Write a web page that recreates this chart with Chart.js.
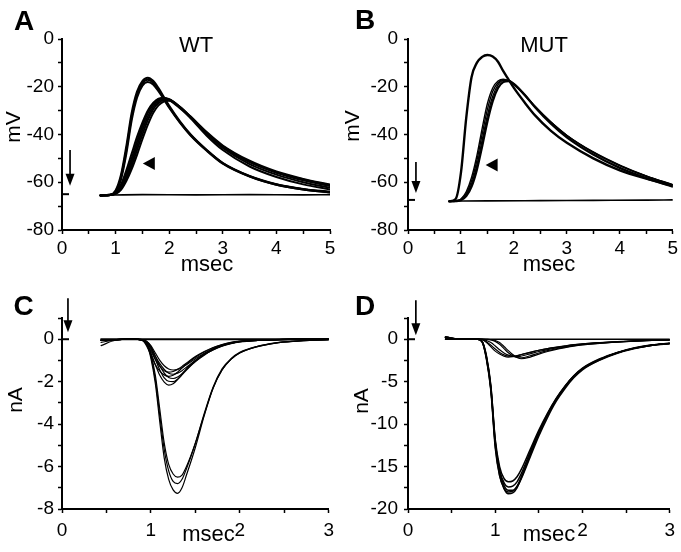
<!DOCTYPE html>
<html><head><meta charset="utf-8">
<script src="https://cdn.jsdelivr.net/npm/chart.js@4.4.1/dist/chart.umd.min.js"></script>
<style>
html,body{margin:0;padding:0;background:#fff;}
#wrap{position:relative;width:681px;height:552px;overflow:hidden;background:#fff;}
canvas{position:absolute;}
</style></head><body>
<div id="wrap">
<canvas id="cA" width="340" height="280" style="left:0;top:0"></canvas>
<canvas id="cB" width="341" height="280" style="left:340px;top:0"></canvas>
<canvas id="cC" width="340" height="272" style="left:0;top:280px"></canvas>
<canvas id="cD" width="341" height="272" style="left:340px;top:280px"></canvas>
</div>
<script>
// ---------- Panel A (WT, mV) ----------
const tA = [0.72, 0.9, 1.0, 1.1, 1.2, 1.3, 1.4, 1.5, 1.6, 1.7, 1.8, 1.9, 2.0, 2.2, 2.4, 2.7, 3.0, 3.5, 4.0, 4.5, 5.0];
const wtFast1 = [-65.5, -65.3, -63.5, -57, -45, -31, -22, -17.6, -16.2, -17.5, -20.6, -24.3, -28, -34.5, -40, -46.5, -52, -57.5, -61, -63, -64.2];
const wtFast2 = [-65.5, -65.3, -63.8, -58, -46.5, -32.5, -23, -18.4, -17, -18.2, -21.2, -24.8, -28.4, -34.8, -40.2, -46.6, -52, -57.4, -60.8, -62.8, -64];
const wtFast3 = [-65.5, -65.3, -64, -58.8, -48, -34, -24.5, -19.5, -18, -19, -21.8, -25.2, -28.8, -35, -40.4, -46.8, -52.2, -57.6, -61, -63, -64.3];
const wtSlow1 = [-65.5, -65.3, -64.5, -61, -55, -48, -41, -35, -30, -26.8, -25, -24.7, -25.6, -29, -33, -39.5, -45, -51.5, -55.8, -58.8, -61.2];
const wtSlow2 = [-65.5, -65.3, -64.6, -61.8, -56.5, -50, -43, -36.5, -31, -27.5, -25.3, -24.6, -25.2, -28.4, -32.5, -39, -44.6, -51, -55.5, -58.6, -61];
const wtSlow3 = [-65.5, -65.3, -64.7, -62.3, -57.5, -51.5, -44.8, -38.2, -32.5, -28.5, -26, -25, -25.3, -28.5, -32.6, -39.3, -45, -51.6, -56, -59.2, -61.6];
const wtSlow4 = [-65.5, -65.3, -64.8, -62.8, -58.5, -53, -46.5, -40, -34, -29.5, -26.8, -25.6, -25.6, -28.6, -32.8, -39.8, -45.6, -52.4, -56.8, -60, -62.3];
const wtSlow5 = [-65.5, -65.3, -64.9, -63.2, -59.5, -54.5, -48.5, -42, -36, -31, -27.8, -26.2, -25.9, -28.7, -33.2, -40.5, -46.5, -53.4, -57.8, -60.9, -63];
const tAbase = [0.72, 1.5, 2.5, 3.5, 4.5, 5.0];
const wtBaseV = [-65.4, -65.2, -65.3, -65.2, -65.3, -65.2];

// ---------- Panel B (MUT, mV) ----------
const tB = [0.78, 0.9, 1.0, 1.1, 1.2, 1.3, 1.4, 1.5, 1.6, 1.7, 1.8, 1.9, 2.0, 2.2, 2.4, 2.7, 3.0, 3.5, 4.0, 4.5, 5.0];
const mutFast = [-68, -67, -56, -33, -16, -10, -7.5, -6.7, -7.3, -9.5, -13.5, -17, -20.5, -26.5, -32, -38.5, -43.5, -50, -55, -58.5, -61.5];
const mutSlow1 = [-68, -67.8, -67, -64, -58, -49, -37.5, -27, -20.5, -17.6, -16.8, -17.5, -19.2, -23.5, -28.5, -35, -40.5, -47.5, -53, -57.5, -61];
const mutSlow2 = [-68, -67.8, -67.2, -64.8, -59.5, -51, -40, -29.5, -22, -18.3, -17, -17.4, -19, -23.3, -28.3, -34.8, -40.3, -47.3, -52.8, -57.3, -61];
const mutSlow3 = [-68, -67.9, -67.4, -65.4, -60.8, -53, -42.5, -32, -24, -19.2, -17.4, -17.4, -18.8, -23.2, -28.2, -34.8, -40.4, -47.5, -53, -57.5, -61.2];
const mutSlow4 = [-68, -67.9, -67.5, -65.8, -61.8, -54.8, -45, -34.5, -26, -20.5, -18, -17.6, -18.8, -23.3, -28.6, -35.5, -41.2, -48.4, -54, -58.3, -61.8];
const tBbase = [0.78, 1.5, 2.5, 3.5, 4.5, 5.0];
const mutBaseV = [-67.9, -67.8, -67.7, -67.6, -67.5, -67.4];

// ---------- Panel C (WT, nA) ----------
const tC = [0.44, 0.6, 0.8, 0.9, 0.95, 1.0, 1.05, 1.1, 1.15, 1.2, 1.25, 1.3, 1.35, 1.4, 1.5, 1.6, 1.7, 1.8, 1.9, 2.0, 2.2, 2.4, 2.6, 3.0];
const wtBig1 = [-0.05, -0.02, 0, -0.02, -0.2, -0.9, -2.1, -3.9, -5.6, -6.6, -7.1, -7.26, -7.0, -6.4, -5.1, -3.6, -2.3, -1.45, -0.95, -0.65, -0.35, -0.18, -0.1, -0.02];
const wtBig2 = [-0.3, -0.05, 0, -0.02, -0.18, -0.8, -1.9, -3.6, -5.2, -6.2, -6.7, -6.8, -6.6, -6.1, -4.9, -3.5, -2.25, -1.4, -0.92, -0.62, -0.33, -0.17, -0.09, -0.02];
const wtBig3 = [-0.15, -0.03, 0, -0.02, -0.15, -0.7, -1.7, -3.3, -4.9, -5.9, -6.35, -6.5, -6.4, -6.0, -4.9, -3.55, -2.3, -1.45, -0.95, -0.64, -0.34, -0.18, -0.1, -0.02];
const wtSm1 = [-0.05, -0.02, 0, -0.05, -0.25, -0.65, -1.2, -1.7, -2.02, -2.16, -2.1, -1.9, -1.65, -1.4, -1.0, -0.68, -0.45, -0.28, -0.17, -0.1, -0.05, -0.02, 0, 0];
const wtSm2 = [-0.05, -0.02, 0, -0.03, -0.15, -0.45, -0.95, -1.45, -1.82, -1.98, -2.0, -1.88, -1.68, -1.45, -1.05, -0.72, -0.48, -0.3, -0.18, -0.11, -0.05, -0.02, 0, 0];
const wtSm3 = [-0.05, -0.02, 0, -0.02, -0.1, -0.35, -0.8, -1.25, -1.6, -1.8, -1.85, -1.78, -1.62, -1.42, -1.05, -0.75, -0.5, -0.32, -0.2, -0.12, -0.06, -0.03, -0.01, 0];
const wtSm4 = [-0.05, -0.02, 0, -0.05, -0.3, -0.75, -1.2, -1.5, -1.68, -1.75, -1.7, -1.55, -1.36, -1.17, -0.85, -0.6, -0.4, -0.26, -0.16, -0.1, -0.05, -0.02, 0, 0];
const wtSm5 = [-0.05, -0.02, 0, -0.02, -0.12, -0.4, -0.8, -1.15, -1.42, -1.6, -1.65, -1.6, -1.48, -1.32, -1.0, -0.72, -0.5, -0.33, -0.21, -0.13, -0.06, -0.03, -0.01, 0];
const wtSm6 = [-0.05, -0.02, 0, -0.04, -0.2, -0.55, -0.95, -1.28, -1.48, -1.55, -1.52, -1.42, -1.28, -1.12, -0.82, -0.58, -0.39, -0.25, -0.15, -0.09, -0.04, -0.02, 0, 0];
const wtSm7 = [-0.05, -0.02, 0, -0.02, -0.1, -0.3, -0.65, -1.0, -1.25, -1.4, -1.45, -1.42, -1.33, -1.2, -0.92, -0.66, -0.45, -0.3, -0.19, -0.12, -0.06, -0.03, -0.01, 0];
const tCbase = [0.44, 1.0, 1.5, 2.0, 2.5, 3.0];
const wtCBaseV = [0, 0, 0, 0, 0, 0];

// ---------- Panel D (MUT, nA) ----------
const tD = [0.43, 0.6, 0.8, 0.85, 0.9, 0.95, 1.0, 1.05, 1.1, 1.15, 1.2, 1.25, 1.3, 1.4, 1.5, 1.6, 1.7, 1.8, 1.9, 2.0, 2.2, 2.4, 2.6, 2.8, 3.0];
const mutBig1 = [0.25, 0, 0, -0.3, -2.2, -5.8, -12.5, -16, -17.6, -18.2, -18.1, -17.5, -16.3, -13.6, -11.1, -8.9, -7.1, -5.6, -4.4, -3.5, -2.4, -1.6, -1.05, -0.7, -0.5];
const mutBig2 = [0.25, 0, 0, -0.25, -2.0, -5.5, -12, -15.6, -17.2, -17.8, -17.8, -17.3, -16.2, -13.6, -11.1, -8.9, -7.1, -5.6, -4.4, -3.5, -2.4, -1.6, -1.05, -0.7, -0.5];
const mutBig3 = [0.2, 0, 0, -0.3, -2.3, -5.9, -12.2, -15.4, -16.9, -17.4, -17.3, -16.8, -15.8, -13.3, -10.9, -8.8, -7.0, -5.55, -4.35, -3.45, -2.35, -1.58, -1.03, -0.68, -0.48];
const mutBig4 = [0.2, 0, 0, -0.28, -2.1, -5.6, -11.8, -15.0, -16.4, -16.8, -16.7, -16.2, -15.3, -13.0, -10.7, -8.7, -6.95, -5.5, -4.3, -3.4, -2.3, -1.55, -1.0, -0.66, -0.46];
const mutBig5 = [0.25, 0, 0, -0.32, -2.4, -6.1, -12.8, -16.1, -17.5, -18.0, -17.9, -17.4, -16.4, -13.9, -11.4, -9.2, -7.3, -5.8, -4.55, -3.6, -2.45, -1.65, -1.1, -0.72, -0.52];
const mutSm1 = [0, 0, 0, -0.05, -0.4, -0.9, -1.4, -1.75, -2.0, -2.1, -2.05, -1.95, -1.8, -1.55, -1.3, -1.1, -0.95, -0.8, -0.65, -0.55, -0.4, -0.3, -0.2, -0.12, -0.08];
const mutSm2 = [0, 0, 0, -0.03, -0.3, -0.7, -1.15, -1.55, -1.85, -1.98, -2.0, -1.92, -1.8, -1.55, -1.3, -1.1, -0.93, -0.78, -0.64, -0.54, -0.4, -0.29, -0.2, -0.12, -0.08];
const mutSm3 = [0, 0, 0, 0, -0.02, -0.05, -0.15, -0.4, -0.85, -1.35, -1.8, -2.15, -2.3, -2.1, -1.75, -1.45, -1.2, -1.0, -0.82, -0.68, -0.48, -0.34, -0.23, -0.14, -0.09];
const mutSm4 = [0, 0, 0, 0, -0.02, -0.08, -0.25, -0.6, -1.1, -1.6, -1.95, -2.15, -2.2, -1.95, -1.62, -1.35, -1.12, -0.93, -0.77, -0.64, -0.46, -0.33, -0.22, -0.14, -0.09];
const mutSm5 = [0, 0, 0, -0.02, -0.15, -0.4, -0.8, -1.25, -1.62, -1.88, -2.02, -2.05, -1.98, -1.72, -1.45, -1.22, -1.02, -0.86, -0.71, -0.59, -0.43, -0.31, -0.21, -0.13, -0.08];
const tDbase = [0.43, 1.0, 1.5, 2.0, 2.5, 3.0];
const mutDBaseV = [0, 0, 0, 0, 0, 0];

// ---------- helpers ----------
const FONT = '"Liberation Sans", Arial, Helvetica, sans-serif';
function trace(times, vals, w) {
  return { data: times.map((t, i) => ({ x: t, y: vals[i] })), borderColor: '#000', borderWidth: w,
           fill: false, pointRadius: 0, cubicInterpolationMode: 'monotone' };
}
function makeAnnot(o) {
  return {
    id: 'annot',
    afterDraw(chart) {
      const ctx = chart.ctx, xs = chart.scales.x, ys = chart.scales.y;
      ctx.save();
      ctx.fillStyle = '#000'; ctx.strokeStyle = '#000';
      ctx.textAlign = 'center'; ctx.textBaseline = 'middle';
      ctx.font = 'bold 28px ' + FONT;
      ctx.fillText(o.letter, o.letterPos[0], o.letterPos[1]);
      if (o.title) { ctx.font = '22px ' + FONT; ctx.fillText(o.title, o.titlePos[0], o.titlePos[1]); }
      ctx.font = '22px ' + FONT;
      ctx.fillText('msec', o.xTitlePos[0], o.xTitlePos[1]);
      ctx.font = '21px ' + FONT;
      ctx.save(); ctx.translate(o.yTitlePos[0], o.yTitlePos[1]); ctx.rotate(-Math.PI / 2);
      ctx.fillText(o.yTitle, 0, 0); ctx.restore();
      // arrow
      const ax = xs.getPixelForValue(o.arrow.x), ay1 = ys.getPixelForValue(o.arrow.y1), ay2 = ys.getPixelForValue(o.arrow.y2);
      ctx.lineWidth = 1.7; ctx.beginPath(); ctx.moveTo(ax, ay1); ctx.lineTo(ax, ay2 - 8); ctx.stroke();
      ctx.beginPath(); ctx.moveTo(ax, ay2); ctx.lineTo(ax - 4.5, ay2 - 12); ctx.lineTo(ax + 4.5, ay2 - 12); ctx.closePath(); ctx.fill();
      // resting level mark
      const dy = ys.getPixelForValue(o.dash);
      ctx.lineWidth = 2; ctx.beginPath(); ctx.moveTo(xs.left + 1, dy); ctx.lineTo(xs.left + 7, dy); ctx.stroke();
      // arrowhead marker
      if (o.head) {
        const hx = xs.getPixelForValue(o.head.x), hy = ys.getPixelForValue(o.head.y);
        ctx.beginPath(); ctx.moveTo(hx - 6, hy); ctx.lineTo(hx + 6, hy - 6.5); ctx.lineTo(hx + 6, hy + 6.5); ctx.closePath(); ctx.fill();
      }
      ctx.restore();
    }
  };
}
function makePanel(id, W, H, area, xMax, yMin, yMax, yStep, yLabelEvery, xTickPad, yTickPad, datasets, annot) {
  const tickFont = { family: FONT, size: 19 };
  const grid = { display: true, drawOnChartArea: false, drawTicks: true, tickLength: 4, tickColor: '#000', tickWidth: 1.5 };
  const border = { display: true, color: '#000', width: 2 };
  return new Chart(document.getElementById(id), {
    type: 'line',
    data: { datasets },
    options: {
      responsive: false, animation: false, events: [],
      layout: { padding: { left: 0, top: area.top, right: W - area.right, bottom: 0 } },
      plugins: { legend: { display: false }, tooltip: { enabled: false }, title: { display: false } },
      elements: { point: { radius: 0 }, line: { borderCapStyle: 'round', borderJoinStyle: 'round' } },
      scales: {
        x: {
          type: 'linear', min: 0, max: xMax,
          afterFit: s => { s.height = H - area.bottom; },
          ticks: { stepSize: 0.5, autoSkip: false, maxRotation: 0, padding: xTickPad, color: '#000', font: tickFont,
                   callback: v => (Math.abs(v - Math.round(v)) < 1e-6 ? String(Math.round(v)) : '') },
          grid, border
        },
        y: {
          type: 'linear', min: yMin, max: yMax,
          afterFit: s => { s.width = area.left; },
          ticks: { stepSize: yStep, autoSkip: false, padding: yTickPad, color: '#000', font: tickFont,
                   callback: v => (Math.abs(v / yLabelEvery - Math.round(v / yLabelEvery)) < 1e-6 ? String(Math.round(v)) : '') },
          grid, border
        }
      }
    },
    plugins: [annot]
  });
}

// ---------- build ----------
makePanel('cA', 340, 280, { left: 62, right: 330, top: 39, bottom: 230 }, 5, -80, 0, 10, 20, 3, 4, [
  trace(tAbase, wtBaseV, 1.6),
  trace(tA, wtSlow1, 2), trace(tA, wtSlow2, 2), trace(tA, wtSlow3, 2), trace(tA, wtSlow4, 2), trace(tA, wtSlow5, 2),
  trace(tA, wtFast1, 2.1), trace(tA, wtFast2, 2.1), trace(tA, wtFast3, 2.1)
], makeAnnot({ letter: 'A', letterPos: [24, 22], title: 'WT', titlePos: [196, 46], xTitlePos: [207, 265], yTitle: 'mV', yTitlePos: [14, 127],
  arrow: { x: 0.15, y1: -46.5, y2: -61.5 }, dash: -65, head: { x: 1.62, y: -52.1 } }));

makePanel('cB', 341, 280, { left: 68, right: 335, top: 39, bottom: 230 }, 5, -80, 0, 10, 20, 3, 6, [
  trace(tBbase, mutBaseV, 1.6),
  trace(tB, mutSlow1, 1.4), trace(tB, mutSlow2, 1.4), trace(tB, mutSlow3, 1.4), trace(tB, mutSlow4, 2.3),
  trace(tB, mutFast, 2.4)
], makeAnnot({ letter: 'B', letterPos: [25, 21], title: 'MUT', titlePos: [204, 46], xTitlePos: [209, 265], yTitle: 'mV', yTitlePos: [13.5, 126],
  arrow: { x: 0.15, y1: -51.5, y2: -64.5 }, dash: -67.4, head: { x: 1.58, y: -52.8 } }));

makePanel('cC', 340, 272, { left: 62, right: 330, top: 38, bottom: 229 }, 3, -8, 1, 1, 2, 6, 4, [
  trace(tCbase, wtCBaseV, 2),
  trace(tC, wtSm1, 1.2), trace(tC, wtSm2, 1.2), trace(tC, wtSm3, 1.2), trace(tC, wtSm4, 1.2), trace(tC, wtSm5, 1.2), trace(tC, wtSm6, 1.2), trace(tC, wtSm7, 1.2),
  trace(tC, wtBig1, 1.2), trace(tC, wtBig2, 1.2), trace(tC, wtBig3, 1.2)
], makeAnnot({ letter: 'C', letterPos: [23.5, 27], xTitlePos: [208.5, 255], yTitle: 'nA', yTitlePos: [16, 120],
  arrow: { x: 0.067, y1: 1.93, y2: 0.33 }, dash: 0 }));

makePanel('cD', 341, 272, { left: 68, right: 335, top: 38, bottom: 229 }, 3, -20, 2.5, 2.5, 5, 6, 6, [
  trace(tDbase, mutDBaseV, 1.6),
  trace(tD, mutSm1, 1.2), trace(tD, mutSm2, 1.2), trace(tD, mutSm3, 1.2), trace(tD, mutSm4, 1.2), trace(tD, mutSm5, 1.2),
  trace(tD, mutBig1, 1.5), trace(tD, mutBig2, 1.5), trace(tD, mutBig3, 1.5), trace(tD, mutBig4, 1.5), trace(tD, mutBig5, 1.5)
], makeAnnot({ letter: 'D', letterPos: [25, 27], xTitlePos: [209, 255], yTitle: 'nA', yTitlePos: [22.5, 121],
  arrow: { x: 0.09, y1: 4.6, y2: 0.47 }, dash: 0 }));
</script>
</body></html>
